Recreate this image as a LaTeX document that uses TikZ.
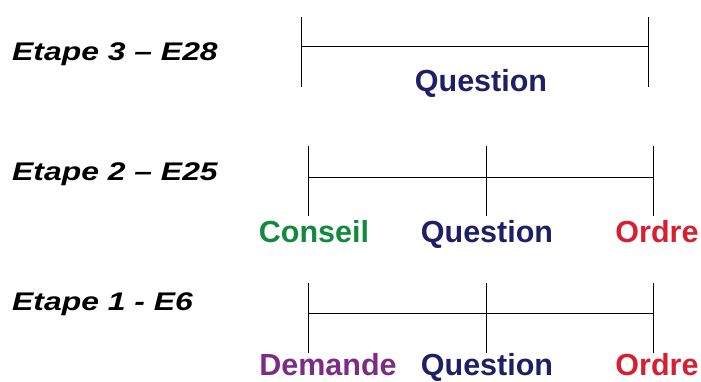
\documentclass[tikz,border=0pt]{standalone}
\usepackage{fontspec}
\setmainfont{Liberation Sans}
\newfontfamily\stagefont[FakeStretch=1.25]{Liberation Sans}
\definecolor{qblue}{HTML}{1F1F66}
\definecolor{cgreen}{HTML}{128A3E}
\definecolor{ored}{HTML}{D42030}
\definecolor{dpurple}{HTML}{7C2C84}
\begin{document}
\begin{tikzpicture}[x=1pt,y=-1pt,
  stage/.style={anchor=base west,inner sep=0pt,font=\stagefont\fontsize{25.5}{28}\selectfont\bfseries\itshape},
  lab/.style={anchor=base,inner sep=0pt,font=\fontsize{30.5}{32}\selectfont\bfseries},
  tl/.style={line width=1pt,black}]
\useasboundingbox (0,0) rectangle (701,381);
% row 3
\node[stage] (s3) at (12,60) {Etape 3 – E28};
\coordinate (a3t) at (301,17); \coordinate (a3b) at (301,87);
\coordinate (b3t) at (648,17); \coordinate (b3b) at (648,87);
\coordinate (a3m) at (301,46); \coordinate (b3m) at (648,46);
\draw[tl] (a3t) -- (a3b); \draw[tl] (b3t) -- (b3b); \draw[tl] (a3m) -- (b3m);
\node[lab,text=qblue] (q3) at (481,91) {Question};
% row 2
\node[stage] (s2) at (12,180) {Etape 2 – E25};
\coordinate (a2t) at (308,146); \coordinate (a2b) at (308,216);
\coordinate (m2t) at (486,146); \coordinate (m2b) at (486,216);
\coordinate (b2t) at (653,146); \coordinate (b2b) at (653,216);
\coordinate (a2m) at (308,177); \coordinate (b2m) at (653,177);
\draw[tl] (a2t) -- (a2b); \draw[tl] (m2t) -- (m2b); \draw[tl] (b2t) -- (b2b); \draw[tl] (a2m) -- (b2m);
\node[lab,text=cgreen] (c2) at (314,242) {Conseil};
\node[lab,text=qblue] (q2) at (487,242) {Question};
\node[lab,text=ored] (o2) at (657,242) {Ordre};
% row 1
\node[stage] (s1) at (12,310) {Etape 1 - E6};
\coordinate (a1t) at (308,283); \coordinate (a1b) at (308,353);
\coordinate (m1t) at (486,283); \coordinate (m1b) at (486,353);
\coordinate (b1t) at (653,283); \coordinate (b1b) at (653,353);
\coordinate (a1m) at (308,313); \coordinate (b1m) at (653,313);
\draw[tl] (a1t) -- (a1b); \draw[tl] (m1t) -- (m1b); \draw[tl] (b1t) -- (b1b); \draw[tl] (a1m) -- (b1m);
\node[lab,text=dpurple] (d1) at (328,375) {Demande};
\node[lab,text=qblue] (q1) at (487,375) {Question};
\node[lab,text=ored] (o1) at (657,375) {Ordre};
\end{tikzpicture}
\end{document}
